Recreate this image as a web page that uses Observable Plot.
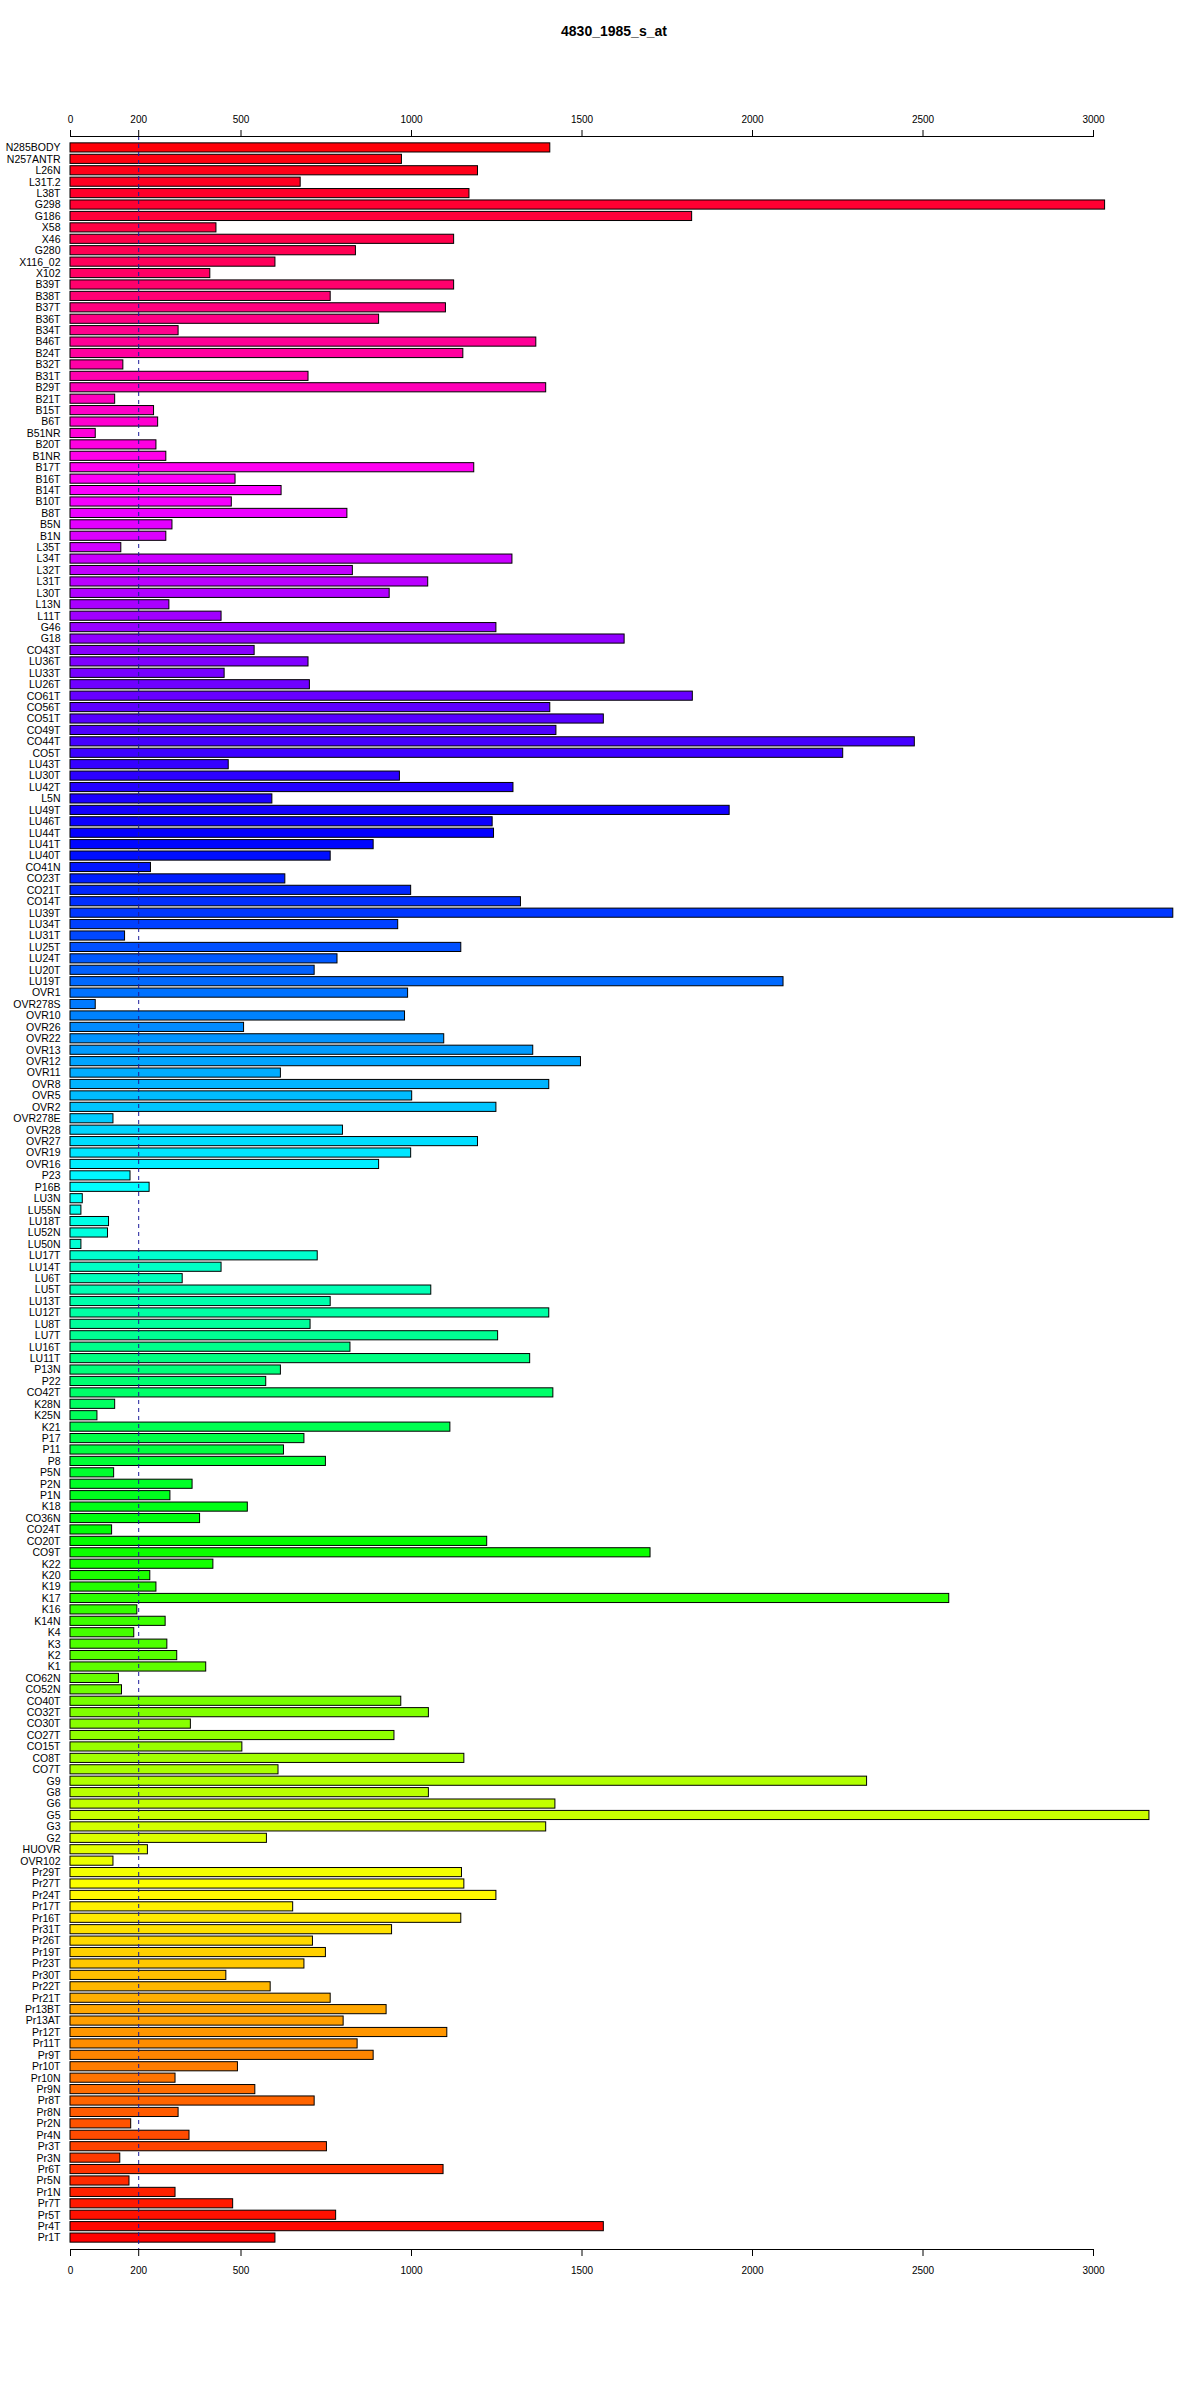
<!DOCTYPE html>
<html>
<head>
<meta charset="utf-8">
<script src="https://cdn.jsdelivr.net/npm/d3@7"></script>
<script src="https://cdn.jsdelivr.net/npm/@observablehq/plot@0.6"></script>
<style>
  html, body { margin: 0; padding: 0; background: #fff; }
  #title { font: bold 14px "Liberation Sans", Arial, sans-serif; height: 60px; line-height: 62px; width: 1200px;
           box-sizing: border-box; padding-left: 28px; text-align: center; color: #000; }
  #chart svg { display: block; }
</style>
</head>
<body>
<div id="title">4830_1985_s_at</div>
<div id="chart"></div>
<script>
const names = ["N285BODY","N257ANTR","L26N","L31T.2","L38T","G298","G186","X58","X46","G280","X116_02","X102",
"B39T","B38T","B37T","B36T","B34T","B46T","B24T","B32T","B31T","B29T","B21T","B15T","B6T","B51NR","B20T","B1NR",
"B17T","B16T","B14T","B10T","B8T","B5N","B1N","L35T","L34T","L32T","L31T","L30T","L13N","L11T","G46","G18",
"CO43T","LU36T","LU33T","LU26T","CO61T","CO56T","CO51T","CO49T","CO44T","CO5T","LU43T","LU30T","LU42T","L5N",
"LU49T","LU46T","LU44T","LU41T","LU40T","CO41N","CO23T","CO21T","CO14T","LU39T","LU34T","LU31T","LU25T","LU24T",
"LU20T","LU19T","OVR1","OVR278S","OVR10","OVR26","OVR22","OVR13","OVR12","OVR11","OVR8","OVR5","OVR2","OVR278E",
"OVR28","OVR27","OVR19","OVR16","P23","P16B","LU3N","LU55N","LU18T","LU52N","LU50N","LU17T","LU14T","LU6T","LU5T",
"LU13T","LU12T","LU8T","LU7T","LU16T","LU11T","P13N","P22","CO42T","K28N","K25N","K21","P17","P11","P8","P5N",
"P2N","P1N","K18","CO36N","CO24T","CO20T","CO9T","K22","K20","K19","K17","K16","K14N","K4","K3","K2","K1",
"CO62N","CO52N","CO40T","CO32T","CO30T","CO27T","CO15T","CO8T","CO7T","G9","G8","G6","G5","G3","G2","HUOVR",
"OVR102","Pr29T","Pr27T","Pr24T","Pr17T","Pr16T","Pr31T","Pr26T","Pr19T","Pr23T","Pr30T","Pr22T","Pr21T",
"Pr13BT","Pr13AT","Pr12T","Pr11T","Pr9T","Pr10T","Pr10N","Pr9N","Pr8T","Pr8N","Pr2N","Pr4N","Pr3T","Pr3N",
"Pr6T","Pr5N","Pr1N","Pr7T","Pr5T","Pr4T","Pr1T"];

const values = [1407,972,1195,675,1170,3034,1823,428,1125,837,601,410,
1125,763,1101,905,317,1366,1152,155,698,1395,131,245,257,74,252,281,
1184,484,619,473,812,299,281,149,1296,828,1049,936,290,443,1249,1625,
540,698,452,702,1825,1407,1564,1425,2476,2266,464,966,1299,592,
1933,1238,1242,889,763,236,630,999,1321,3234,961,160,1146,783,
716,2091,990,74,981,509,1096,1357,1497,617,1404,1002,1249,126,
799,1195,999,905,176,232,36,32,113,110,32,725,443,329,1058,
763,1404,704,1254,821,1348,617,574,1416,131,79,1114,686,626,749,128,
358,293,520,380,122,1222,1701,419,234,252,2577,196,279,187,284,313,398,
142,151,970,1051,353,950,504,1155,610,2336,1051,1422,3164,1395,576,227,
126,1148,1155,1249,653,1146,943,711,749,686,457,587,763,
927,801,1105,842,889,491,308,542,716,317,178,349,752,146,
1094,173,308,477,779,1564,601];

const xTicks = [0, 200, 500, 1000, 1500, 2000, 2500, 3000];
const cutoff = [200];

const n = names.length;
const data = names.map((name, i) => ({name, value: values[i], idx: i}));
// rainbow palette assigned from the bottom bar upward (hsv(h,1,1))
const colorOf = d => d3.hsl(((n - 1 - d.idx) / n) * 360, 1, 0.5).formatHex();

const chart = Plot.plot({
  width: 1200,
  height: 2340,
  marginTop: 76,
  marginBottom: 151,
  marginLeft: 70,
  marginRight: 107,
  style: {fontFamily: "'Liberation Sans', Arial, sans-serif", fontSize: "10px", background: "white"},
  x: {domain: [0, 3000], label: null},
  y: {domain: names, paddingInner: 0.2, paddingOuter: 0.6, label: null},
  color: {type: "identity"},
  marks: [
    Plot.barX(data, {x: "value", y: "name", fill: colorOf, stroke: "#000", strokeWidth: 1}),
    Plot.ruleX(cutoff, {stroke: "#1c1c9c", strokeDasharray: "4,4", strokeWidth: 1}),
    Plot.frame({anchor: "top", stroke: "#000"}),
    Plot.frame({anchor: "bottom", stroke: "#000"}),
    Plot.axisX({anchor: "top", ticks: xTicks, tickSize: 7, tickPadding: 7, tickFormat: d => String(d), fontSize: 10, label: null}),
    Plot.axisX({anchor: "bottom", ticks: xTicks, tickSize: 7, tickPadding: 10, tickFormat: d => String(d), fontSize: 10, label: null}),
    Plot.axisY({anchor: "left", tickSize: 0, tickPadding: 10, fontSize: 10.5, label: null})
  ]
});
document.getElementById("chart").appendChild(chart);
</script>
</body>
</html>
